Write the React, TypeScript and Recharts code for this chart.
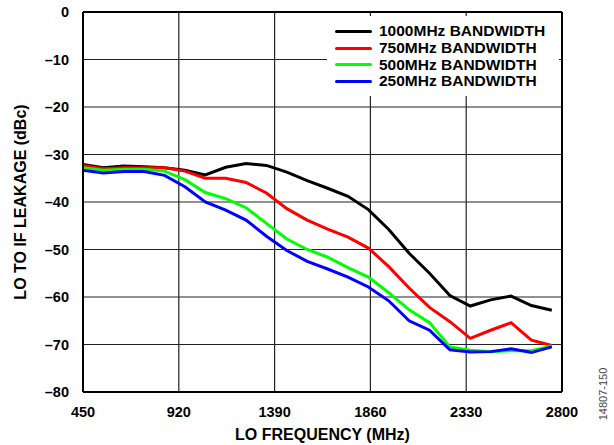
import { CartesianGrid, Line, LineChart, ReferenceLine, XAxis, YAxis } from "recharts";

const freqMHz = [
  450, 550, 650, 750, 850, 950, 1050, 1150, 1250, 1350, 1450, 1550,
  1650, 1750, 1850, 1950, 2050, 2150, 2250, 2350, 2450, 2550, 2650, 2750,
];

const bw1000 = [
  -32.1, -32.8, -32.4, -32.6, -32.8, -33.3, -34.3, -32.7, -31.9, -32.3, -33.7, -35.5,
  -37.1, -38.8, -41.6, -45.8, -50.8, -55.0, -59.7, -61.9, -60.6, -59.8, -61.8, -62.8,
];
const bw750 = [
  -32.3, -33.0, -32.8, -32.8, -32.8, -33.5, -35.0, -35.0, -35.9, -38.1, -41.4, -43.8,
  -45.7, -47.4, -49.7, -53.6, -58.1, -62.2, -65.2, -68.7, -67.0, -65.4, -69.1, -70.2,
];
const bw500 = [
  -32.8, -33.3, -33.1, -33.1, -33.5, -35.3, -38.0, -39.3, -41.2, -44.5, -47.8, -50.0,
  -51.6, -53.8, -55.8, -59.1, -62.7, -65.4, -70.5, -71.2, -71.5, -71.3, -71.3, -70.3,
];
const bw250 = [
  -33.3, -33.9, -33.6, -33.6, -34.4, -36.8, -40.0, -41.7, -43.8, -47.2, -50.2, -52.5,
  -54.1, -55.8, -57.9, -60.8, -65.0, -67.0, -71.1, -71.6, -71.5, -70.9, -71.7, -70.5,
];

const xTicks = [450, 920, 1390, 1860, 2330, 2800];
const yTicks = [0, -10, -20, -30, -40, -50, -60, -70, -80];

const series = [
  { key: "bw1000", name: "1000MHz BANDWIDTH", color: "#000000", values: bw1000 },
  { key: "bw750", name: "750MHz BANDWIDTH", color: "#ff0000", values: bw750 },
  { key: "bw500", name: "500MHz BANDWIDTH", color: "#00ff00", values: bw500 },
  { key: "bw250", name: "250MHz BANDWIDTH", color: "#0000ff", values: bw250 },
];

const data = freqMHz.map((f, i) => {
  const row: Record<string, number> = { f };
  series.forEach((s) => (row[s.key] = s.values[i]));
  return row;
});

const FONT = "'Liberation Sans', Arial, sans-serif";
const fmt = (v: number) => (v < 0 ? `\u2013${Math.abs(v)}` : `${v}`);
const tickStyle = { fontSize: 14.5, fontWeight: 700, fill: "#000", fontFamily: FONT };

function LegendBox() {
  return (
    <div
      style={{
        position: "absolute",
        left: 327,
        top: 16,
        width: 232,
        height: 80,
        background: "#fff",
        boxSizing: "border-box",
        padding: "7px 0 0 8px",
        fontFamily: FONT,
      }}
    >
      {series.map((s) => (
        <div key={s.key} style={{ display: "flex", alignItems: "center", height: 16.7 }}>
          <span style={{ width: 37, height: 3, background: s.color, borderRadius: 2, marginRight: 7 }} />
          <span style={{ fontSize: 15.5, fontWeight: 700, color: "#000", whiteSpace: "nowrap" }}>{s.name}</span>
        </div>
      ))}
    </div>
  );
}

export default function App() {
  return (
    <div style={{ position: "absolute", left: 0, top: 0, width: 614, height: 445, background: "#fff" }}>
      <LineChart width={614} height={445} data={data} margin={{ top: 12, right: 52, bottom: 0, left: 0 }}>
        <CartesianGrid stroke="#222" strokeWidth={1.2} />
        <XAxis
          dataKey="f"
          type="number"
          domain={[450, 2800]}
          ticks={xTicks}
          tickLine={false}
          axisLine={{ stroke: "#000", strokeWidth: 2 }}
          tick={tickStyle}
          tickMargin={9}
          height={53}
          label={{
            value: "LO FREQUENCY (MHz)",
            position: "insideBottom",
            offset: 5,
            style: { fontSize: 16, fontWeight: 700, fill: "#000", fontFamily: FONT },
          }}
        />
        <YAxis
          type="number"
          domain={[-80, 0]}
          ticks={yTicks}
          tickFormatter={fmt}
          tickLine={false}
          axisLine={{ stroke: "#000", strokeWidth: 2 }}
          tick={tickStyle}
          tickMargin={8}
          width={83}
          label={{
            value: "LO TO IF LEAKAGE (dBc)",
            angle: -90,
            position: "insideLeft",
            offset: 20,
            style: { fontSize: 16, fontWeight: 700, fill: "#000", fontFamily: FONT, textAnchor: "middle" },
          }}
        />
        <ReferenceLine y={0} stroke="#000" strokeWidth={2} />
        <ReferenceLine x={2800} stroke="#000" strokeWidth={2} />
        {series.map((s) => (
          <Line
            key={s.key}
            dataKey={s.key}
            name={s.name}
            stroke={s.color}
            strokeWidth={3}
            dot={false}
            type="linear"
            isAnimationActive={false}
          />
        ))}
      </LineChart>
      <LegendBox />
      <div
        style={{
          position: "absolute",
          left: 603,
          top: 394,
          transform: "translate(-50%, -50%) rotate(-90deg)",
          fontFamily: FONT,
          fontSize: 11,
          color: "#444",
          whiteSpace: "nowrap",
        }}
      >
        14807-150
      </div>
    </div>
  );
}
